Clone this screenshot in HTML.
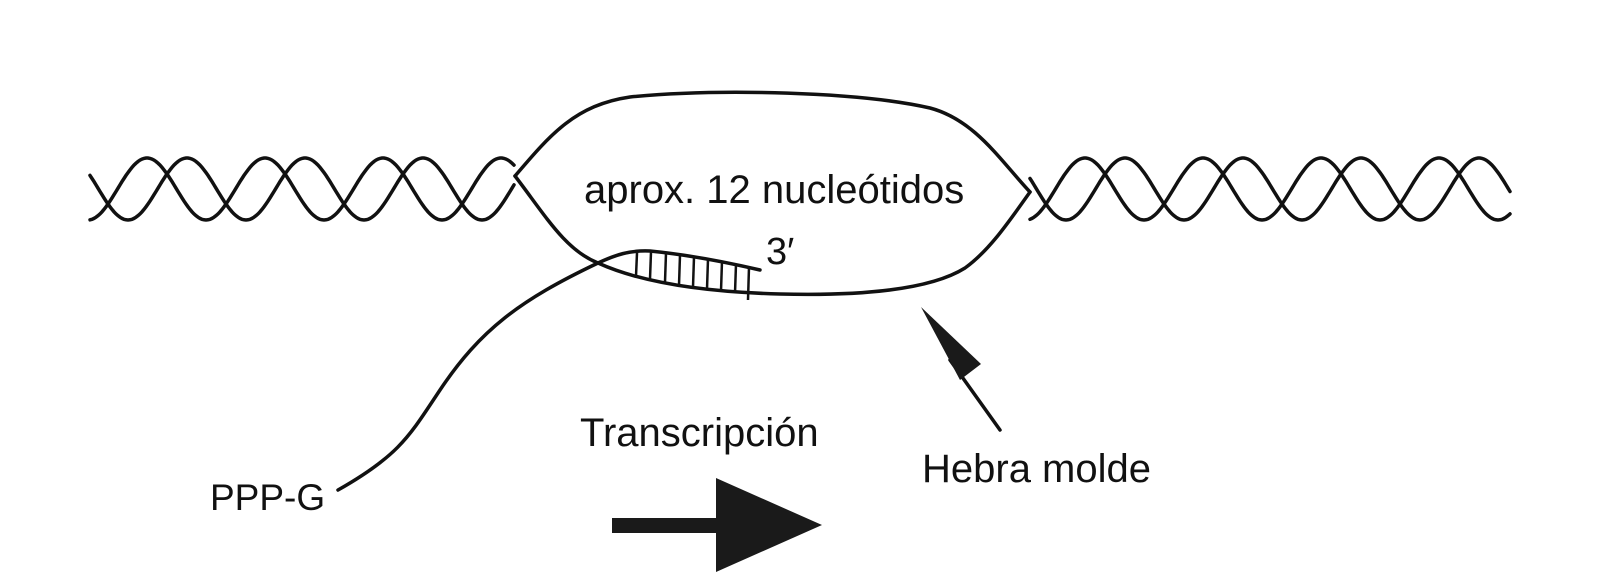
<!DOCTYPE html>
<html><head><style>
body{margin:0;background:#fff;}
svg{display:block}
text{font-family:"Liberation Sans",sans-serif;fill:#111}
</style></head><body>
<svg id="s" width="1600" height="588" viewBox="0 0 1600 588" xmlns="http://www.w3.org/2000/svg">
<g fill="none" stroke="#111" stroke-width="3.5" stroke-linecap="round">
<path id="h1"/><path id="h2"/><path id="h3"/><path id="h4"/>
<path d="M515,176 C550,135 575,105 630,97 C720,88 860,92 930,108 C975,120 1000,160 1030,192"/>
<path d="M515,176 C545,215 565,250 598,263 C640,282 700,292 780,294 C860,296 930,290 965,268 C990,250 1010,220 1030,192"/>
<path d="M598,263 C615,255 630,250 650,251 C690,255 730,263 760,270"/>
<path d="M598,263 C520,300 480,330 440,390 C410,435 400,455 338,490"/>
<path d="M1000,430 L950,360"/>
</g>
<g stroke="#111" stroke-width="2.5">
<line x1="637" y1="253" x2="636" y2="276"/>
<line x1="651" y1="252" x2="650" y2="279"/>
<line x1="666" y1="253" x2="665" y2="282"/>
<line x1="680" y1="255" x2="679" y2="285"/>
<line x1="694" y1="257" x2="693" y2="287"/>
<line x1="708" y1="259" x2="707" y2="289"/>
<line x1="722" y1="261" x2="721" y2="291"/>
<line x1="736" y1="264" x2="735" y2="293"/>
<line x1="749" y1="267" x2="748" y2="300"/>
</g>
<polygon points="921,307 960,380 981,364" fill="#1a1a1a"/>
<rect x="612" y="518" width="108" height="15" fill="#1a1a1a"/>
<polygon points="716,478 716,572 822,525" fill="#1a1a1a"/>
<text x="584" y="203" font-size="40">aprox. 12 nucleótidos</text>
<text x="766" y="264" font-size="38">3′</text>
<text x="580" y="446" font-size="40">Transcripción</text>
<text x="922" y="482" font-size="40">Hebra molde</text>
<text x="210" y="510" font-size="37">PPP-G</text>
</svg>
<script>
function wave(x0,x1,phase){
 var d="",P=118,A=31,C=189;
 for(var x=x0;x<=x1;x+=2){
  var y=C-A*Math.cos(2*Math.PI*(x-phase)/P);
  d+=(x==x0?"M":"L")+x+","+y.toFixed(1);
 }
 return d;
}
document.getElementById("h1").setAttribute("d",wave(90,515,147));
document.getElementById("h2").setAttribute("d",wave(90,515,187));
document.getElementById("h3").setAttribute("d",wave(1030,1510,1085));
document.getElementById("h4").setAttribute("d",wave(1030,1510,1125));
</script>
</body></html>
